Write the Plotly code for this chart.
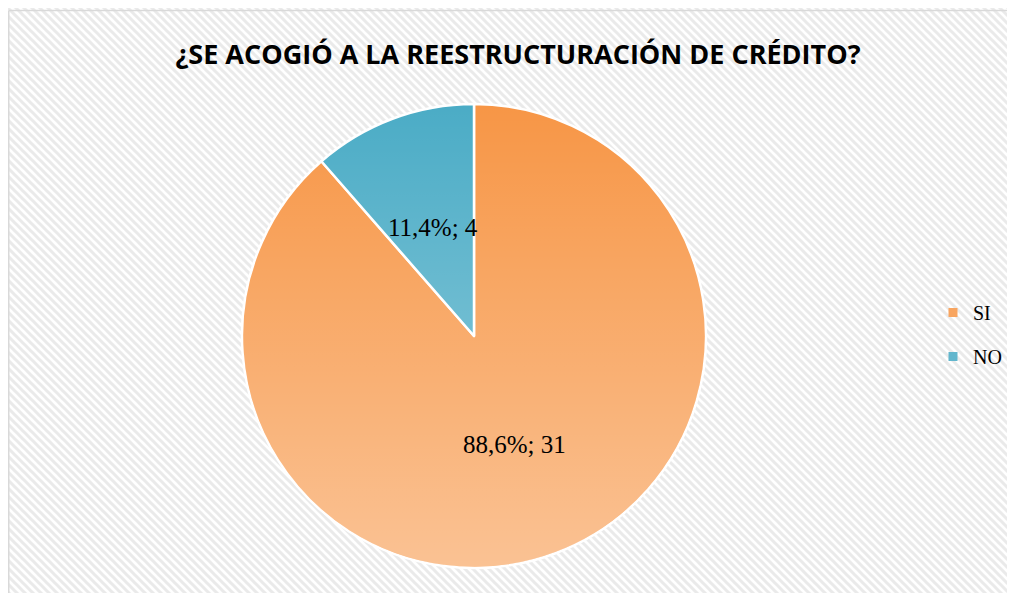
import base64
import math
import plotly.graph_objects as go

# ---- data ----
categories = ["SI", "NO"]
counts = [31, 4]
slice_colors = ["#F79646", "#4BACC6"]
legend_colors = ["#F8A560", "#62B6CD"]
title_text = "¿SE ACOGIÓ A LA REESTRUCTURACIÓN DE CRÉDITO?"

W, H = 1015, 593

# pie domain (square, radius ~232 px); figure coords (page offset 8px by body margin)
dom_x = [234 / W, 698 / W]
dom_y = [(H - 560) / H, (H - 96) / H]

hatch_svg = f'''<svg xmlns="http://www.w3.org/2000/svg" width="{W}" height="{H}">
<defs><pattern id="p" patternUnits="userSpaceOnUse" width="8" height="8">
<rect width="8" height="8" fill="#FFFFFF"/>
<path d="M-2,-2 L10,10 M-2,6 L2,10 M6,-2 L10,2" stroke="#EAEAEA" stroke-width="3"/>
</pattern></defs>
<rect width="{W}" height="{H}" fill="url(#p)"/>
</svg>'''

grad_svg = '''<svg xmlns="http://www.w3.org/2000/svg" width="400" height="400" viewBox="0 0 400 400">
<defs><linearGradient id="g" x1="0" y1="0" x2="0" y2="1">
<stop offset="0" stop-color="#FFFFFF" stop-opacity="0"/>
<stop offset="1" stop-color="#FFFFFF" stop-opacity="0.42"/>
</linearGradient></defs>
<circle cx="200" cy="200" r="199" fill="url(#g)"/>
</svg>'''


def uri(svg):
    return "data:image/svg+xml;base64," + base64.b64encode(svg.encode("utf-8")).decode("ascii")


fig = go.Figure()
fig.add_trace(go.Pie(
    labels=categories,
    values=counts,
    sort=False,
    direction="clockwise",
    rotation=0,
    marker=dict(colors=slice_colors, line=dict(color="#FFFFFF", width=2.5)),
    textinfo="none",
    domain=dict(x=dom_x, y=dom_y),
    showlegend=False,
    hoverinfo="label+value+percent",
))

for i, (cat, col) in enumerate(zip(categories, legend_colors)):
    fig.add_trace(go.Scatter(
        x=[None], y=[None], mode="markers", name=cat,
        legendgroup=f"g{i}",
        marker=dict(symbol="square", size=9, color=col),
        showlegend=True,
    ))

# data labels at half radius, slice mid-angle (clockwise from 12 o'clock)
total = sum(counts)
cx = (dom_x[0] + dom_x[1]) / 2
cy = (dom_y[0] + dom_y[1]) / 2
rx = (dom_x[1] - dom_x[0]) / 2
ry = (dom_y[1] - dom_y[0]) / 2
annotations = []
cum = 0
for cat, v in zip(categories, counts):
    mid = (cum + v / 2) / total * 2 * math.pi
    cum += v
    pct = f"{100 * v / total:.1f}".replace(".", ",")
    annotations.append(dict(
        x=cx + 0.5 * rx * math.sin(mid), y=cy + 0.5 * ry * math.cos(mid),
        xref="paper", yref="paper", xanchor="center", yanchor="middle",
        text=f"{pct}%; {v}", showarrow=False,
        font=dict(family="Liberation Serif", size=25, color="#000000"),
    ))

border = dict(color="#D9D9D9", width=1.5)

fig.update_layout(
    width=W, height=H,
    margin=dict(l=0, r=0, t=0, b=0),
    paper_bgcolor="#FFFFFF",
    plot_bgcolor="rgba(0,0,0,0)",
    separators=",.",
    xaxis=dict(visible=False),
    yaxis=dict(visible=False),
    title=dict(
        text=f"<b>{title_text}</b>",
        x=510 / W, xanchor="center",
        y=1 - 47 / H, yanchor="middle",
        font=dict(family="Open Sans", size=27, color="#000000"),
    ),
    legend=dict(
        x=925 / W, xanchor="left",
        y=1 - 326.5 / H, yanchor="middle",
        bgcolor="rgba(0,0,0,0)",
        font=dict(family="Liberation Serif", size=20, color="#000000"),
        tracegroupgap=15,
        itemwidth=30,
    ),
    annotations=annotations,
    images=[
        dict(source=uri(hatch_svg), xref="paper", yref="paper",
             x=0, y=1, sizex=1, sizey=1, xanchor="left", yanchor="top",
             sizing="stretch", layer="below"),
        dict(source=uri(grad_svg), xref="paper", yref="paper",
             x=dom_x[0], y=dom_y[1], sizex=dom_x[1] - dom_x[0], sizey=dom_y[1] - dom_y[0],
             xanchor="left", yanchor="top", sizing="stretch", layer="above"),
    ],
    shapes=[
        dict(type="line", xref="paper", yref="paper",
             x0=0.75 / W, y0=0, x1=0.75 / W, y1=1 - 2.5 / H,
             line=border, layer="below"),
        dict(type="line", xref="paper", yref="paper",
             x0=0.75 / W, y0=1 - 2.5 / H, x1=1, y1=1 - 2.5 / H,
             line=border, layer="below"),
    ],
)

fig.write_html(
    "out.html",
    post_script="document.documentElement.style.overflow='hidden';"
                "document.body.style.overflow='hidden';",
)
